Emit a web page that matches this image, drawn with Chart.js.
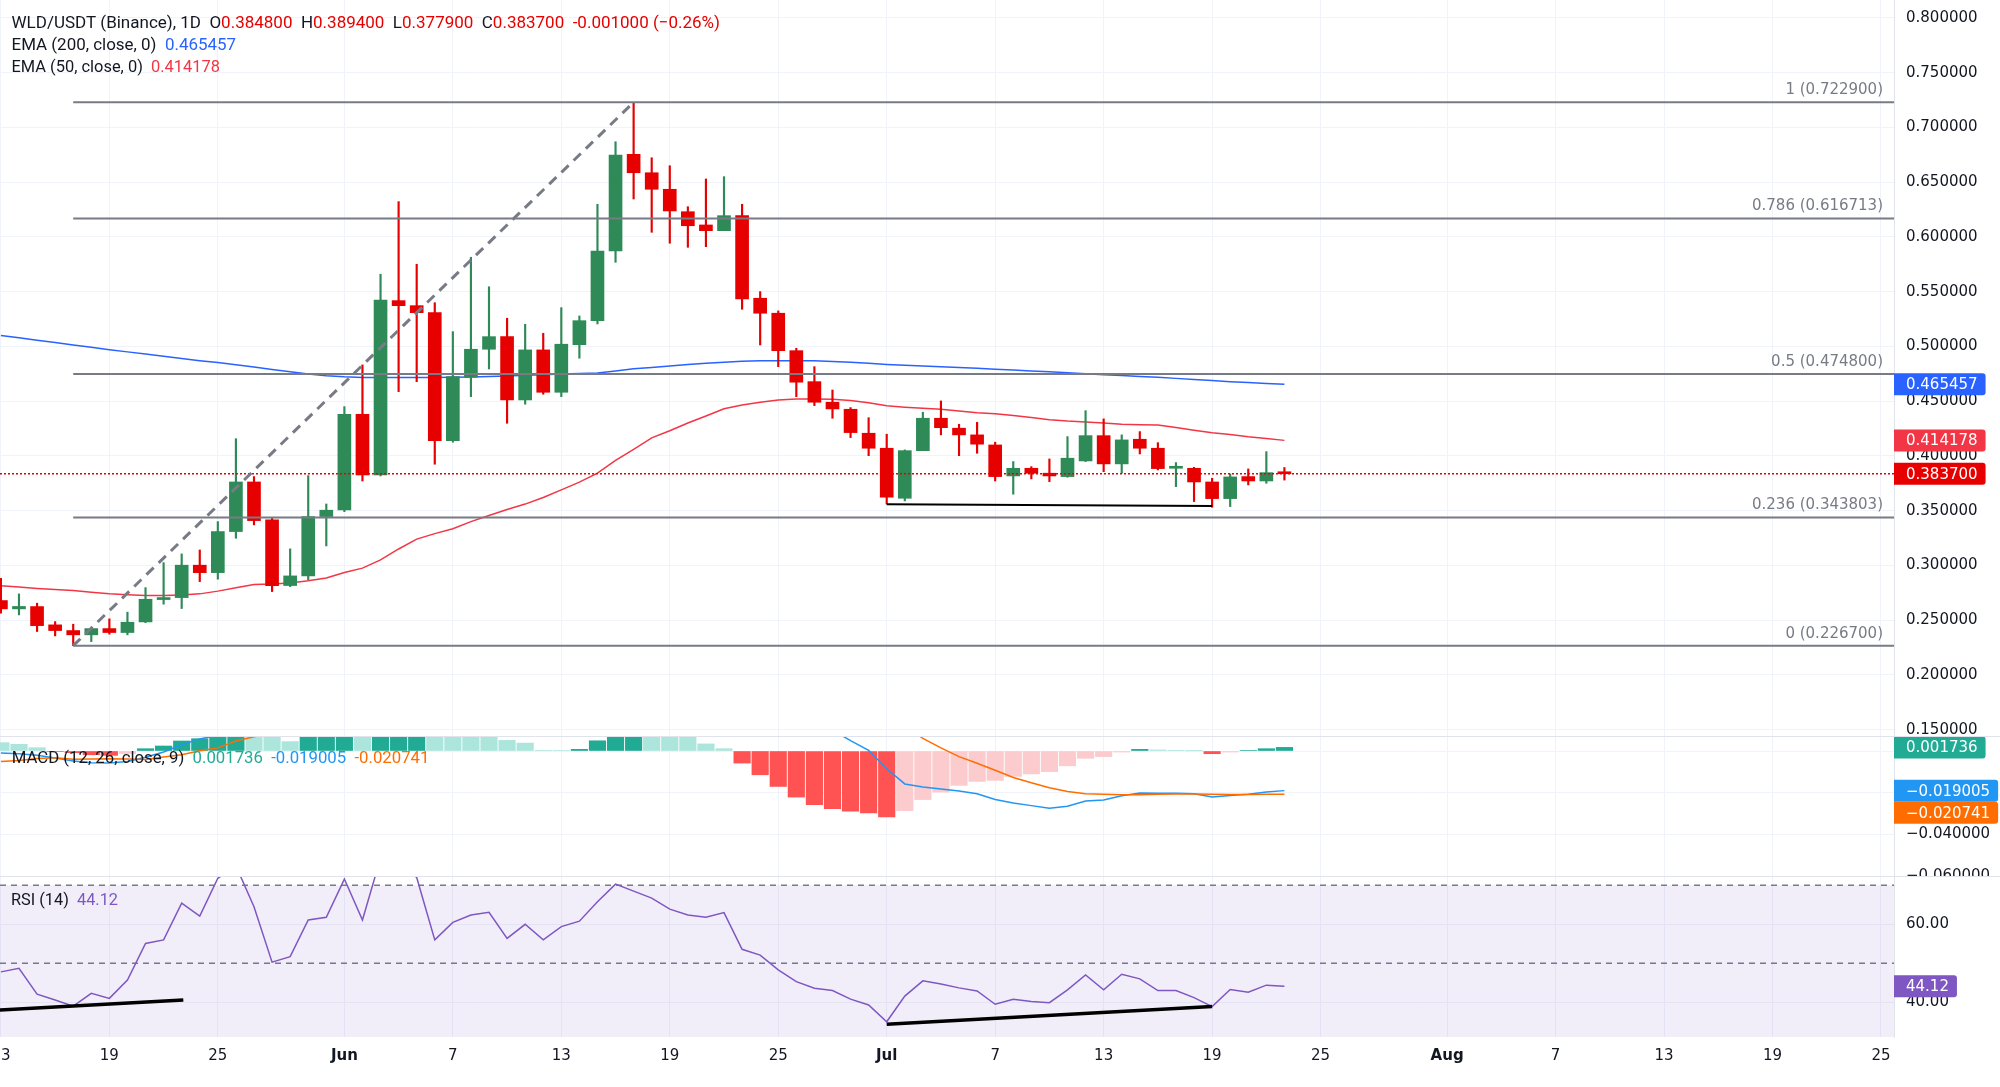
<!DOCTYPE html>
<html><head><meta charset="utf-8">
<script src="https://cdn.jsdelivr.net/npm/chart.js@4.4.1/dist/chart.umd.min.js"></script>
<style>
html,body{margin:0;padding:0;background:#fff;}
body{width:2000px;height:1087px;position:relative;overflow:hidden}
canvas{position:absolute;left:0;display:block}
.sep{position:absolute;left:0;width:2000px;height:1px;background:#e0e3eb}
</style></head><body>
<canvas id="c1" width="2000" height="736" style="top:0"></canvas>
<canvas id="c2" width="2000" height="140" style="top:737px"></canvas>
<canvas id="c3" width="2000" height="210" style="top:877px"></canvas>
<div class="sep" style="top:736px"></div>
<div class="sep" style="top:876px"></div>
<script>
// ---------- DATA ----------
const symbolTitle = 'WLD/USDT (Binance), 1D';
const xTickDays   = [0,6,12,19,25,31,37,43,49,55,61,67,73,80,86,92,98,104];
const xTickLabels = ['13','19','25','Jun','7','13','19','25','Jul','7','13','19','25','Aug','7','13','19','25'];
const monthLabels = ['Jun','Jul','Aug'];
const priceTicks = [0.15,0.2,0.25,0.3,0.35,0.4,0.45,0.5,0.55,0.6,0.65,0.7,0.75,0.8];
const macdTicks  = [0,-0.02,-0.04,-0.06];
const rsiTicks   = [40,60];
const rsiBands   = [70,50,30];

const open = [0.2679,0.2603,0.2624,0.2457,0.2405,0.2366,0.2423,0.2387,0.2484,0.2688,
0.2706,0.3002,0.2934,0.3309,0.3762,0.3416,0.2816,0.2904,0.3446,0.3507,
0.4380,0.3826,0.5418,0.5372,0.5308,0.4139,0.4718,0.4974,0.5089,0.4511,
0.4968,0.4581,0.5016,0.5235,0.5871,0.6754,0.6586,0.6435,0.6230,0.6109,
0.6057,0.6194,0.5440,0.5303,0.4961,0.4678,0.4490,0.4426,0.4207,0.4070,
0.3613,0.4048,0.4344,0.4253,0.4192,0.4100,0.3817,0.3887,0.3842,0.3811,
0.3954,0.4185,0.3927,0.4152,0.4070,0.3887,0.3887,0.3762,0.3610,0.3811,
0.3771,0.3848];
const high = [0.2883,0.2740,0.2655,0.2487,0.2463,0.2432,0.2512,0.2573,0.2797,0.3025,
0.3105,0.3141,0.3400,0.4157,0.3811,0.3431,0.3151,0.3820,0.3561,0.4450,
0.4831,0.5659,0.6322,0.5750,0.5399,0.5135,0.5814,0.5545,0.5257,0.5202,
0.5120,0.5354,0.5278,0.6298,0.6869,0.7229,0.6723,0.6650,0.6276,0.6529,
0.6550,0.6298,0.5500,0.5324,0.4983,0.4815,0.4602,0.4441,0.4349,0.4198,
0.4055,0.4399,0.4502,0.4289,0.4307,0.4125,0.3948,0.3902,0.3972,0.4176,
0.4413,0.4338,0.4192,0.4222,0.4121,0.3939,0.3896,0.3796,0.3835,0.3881,
0.4039,0.3894];
const low = [0.2563,0.2548,0.2396,0.2356,0.2267,0.2304,0.2372,0.2366,0.2477,0.2646,
0.2606,0.2852,0.2874,0.3248,0.3370,0.2761,0.2806,0.2868,0.3178,0.3491,
0.3771,0.3817,0.4587,0.4678,0.3924,0.4125,0.4541,0.4794,0.4298,0.4472,
0.4563,0.4541,0.4892,0.5205,0.5768,0.6346,0.6042,0.5942,0.5905,0.5911,
0.6057,0.5339,0.5013,0.4815,0.4541,0.4459,0.4344,0.4167,0.4002,0.3561,
0.3589,0.4048,0.4192,0.4002,0.4024,0.3771,0.3650,0.3790,0.3765,0.3805,
0.3948,0.3856,0.3842,0.4018,0.3872,0.3719,0.3583,0.3531,0.3537,0.3735,
0.3750,0.3779];
const close = [0.2603,0.2625,0.2450,0.2405,0.2366,0.2423,0.2387,0.2481,0.2691,0.2706,
0.3002,0.2934,0.3309,0.3762,0.3409,0.2816,0.2904,0.3446,0.3504,0.4380,
0.3826,0.5424,0.5372,0.5308,0.4139,0.4724,0.4974,0.5089,0.4511,0.4968,
0.4581,0.5020,0.5235,0.5871,0.6748,0.6586,0.6435,0.6237,0.6102,0.6057,
0.6194,0.5433,0.5303,0.4961,0.4673,0.4490,0.4429,0.4213,0.4070,0.3623,
0.4048,0.4344,0.4258,0.4192,0.4107,0.3811,0.3887,0.3842,0.3817,0.3979,
0.4185,0.3927,0.4146,0.4070,0.3884,0.3896,0.3762,0.3610,0.3808,0.3771,
0.3847,0.3837];
const ema200 = [0.5100,0.5078,0.5056,0.5035,0.5013,0.4992,0.4970,0.4950,0.4930,0.4910,
0.4890,0.4870,0.4852,0.4832,0.4812,0.4790,0.4768,0.4748,0.4732,0.4722,
0.4717,0.4716,0.4716,0.4716,0.4716,0.4718,0.4721,0.4725,0.4730,0.4736,
0.4742,0.4748,0.4752,0.4758,0.4775,0.4795,0.4808,0.4822,0.4835,0.4846,
0.4856,0.4864,0.4868,0.4870,0.4870,0.4868,0.4862,0.4855,0.4845,0.4835,
0.4828,0.4822,0.4815,0.4808,0.4800,0.4792,0.4784,0.4776,0.4768,0.4760,
0.4750,0.4742,0.4734,0.4726,0.4718,0.4708,0.4698,0.4688,0.4678,0.4670,
0.4662,0.465457];
const ema50 = [0.2815,0.2802,0.2790,0.2780,0.2770,0.2755,0.2740,0.2732,0.2725,0.2726,
0.2730,0.2740,0.2765,0.2795,0.2825,0.2830,0.2840,0.2860,0.2885,0.2935,
0.2975,0.3050,0.3150,0.3240,0.3290,0.3335,0.3400,0.3455,0.3510,0.3560,
0.3620,0.3690,0.3760,0.3842,0.3960,0.4060,0.4165,0.4230,0.4300,0.4365,
0.4430,0.4465,0.4490,0.4510,0.4520,0.4520,0.4518,0.4505,0.4485,0.4457,
0.4445,0.4435,0.4425,0.4410,0.4395,0.4385,0.4370,0.4350,0.4330,0.4318,
0.4310,0.4300,0.4288,0.4285,0.4283,0.4260,0.4235,0.4212,0.4195,0.4175,
0.4160,0.414178];
const histPrev = 0.0046;
const hist = [0.0040,0.0032,0.0016,-0.0002,-0.0008,-0.0018,-0.0021,-0.0012,0.0011,0.0024,
0.0048,0.0059,0.0085,0.0105,0.0095,0.0080,0.0045,0.0075,0.0090,0.0110,
0.0100,0.0120,0.0132,0.0138,0.0118,0.0105,0.0092,0.0080,0.0051,0.0038,
0.0003,0.0002,0.0008,0.0049,0.0075,0.0090,0.0085,0.0080,0.0074,0.0034,
0.0011,-0.0058,-0.0114,-0.0170,-0.0221,-0.0257,-0.0276,-0.0289,-0.0297,-0.0316,
-0.0286,-0.0233,-0.0197,-0.0165,-0.0146,-0.0141,-0.0122,-0.0110,-0.0099,-0.0071,
-0.0035,-0.0027,-0.0005,0.0008,0.0005,0.0003,0.0001,-0.0013,-0.0005,0.0002,
0.0011,0.001736];
const macd = [-0.0010,-0.0013,-0.0020,-0.0034,-0.0048,-0.0056,-0.0058,-0.0050,-0.0030,-0.0005,
0.0030,0.0058,0.0075,0.0120,0.0160,0.0175,0.0170,0.0205,0.0240,0.0280,
0.0290,0.0330,0.0360,0.0385,0.0380,0.0385,0.0390,0.0395,0.0380,0.0380,
0.0370,0.0375,0.0385,0.0420,0.0470,0.0500,0.0515,0.0520,0.0520,0.0505,
0.0490,0.0430,0.0370,0.0300,0.0230,0.0165,0.0100,0.0050,0.0003,-0.0085,
-0.0158,-0.0173,-0.0182,-0.0192,-0.0205,-0.0233,-0.0249,-0.0262,-0.0275,-0.0265,
-0.0240,-0.0235,-0.0215,-0.0202,-0.0203,-0.0203,-0.0205,-0.0221,-0.0214,-0.0207,
-0.0197,-0.019005];
const signal = [-0.0050,-0.0045,-0.0036,-0.0032,-0.0040,-0.0038,-0.0037,-0.0038,-0.0041,-0.0029,
-0.0018,0.0001,0.0015,0.0048,0.0068,0.0090,0.0125,0.0130,0.0150,0.0170,
0.0190,0.0210,0.0228,0.0247,0.0262,0.0280,0.0298,0.0315,0.0329,0.0342,
0.0367,0.0373,0.0377,0.0371,0.0395,0.0410,0.0430,0.0440,0.0446,0.0471,
0.0479,0.0488,0.0484,0.0470,0.0451,0.0422,0.0376,0.0339,0.0300,0.0231,
0.0128,0.0060,0.0015,-0.0027,-0.0059,-0.0092,-0.0127,-0.0152,-0.0176,-0.0194,
-0.0205,-0.0208,-0.0210,-0.0210,-0.0208,-0.0206,-0.0206,-0.0208,-0.0209,-0.0209,
-0.0208,-0.020741];
const rsi = [47.8,48.7,42.1,40.6,39.0,42.3,41.0,45.7,55.1,56.0,
65.4,62.1,71.8,75.0,64.5,50.3,51.7,61.1,61.8,71.6,
61.1,77.0,76.0,72.0,56.0,60.5,62.4,63.1,56.4,60.0,
56.0,59.4,60.8,65.8,70.3,68.5,66.7,63.9,62.4,61.8,
63.0,53.6,52.1,48.3,45.3,43.6,43.0,40.8,39.3,35.0,
41.6,45.5,44.7,43.7,42.9,39.5,40.8,40.2,39.9,43.2,
47.0,43.2,47.2,46.0,43.0,43.0,41.2,38.9,43.3,42.6,
44.4,44.12];

// drawings
const fibLevels = [1,0.786,0.5,0.236,0];
const fibPrices = [0.7229,0.616713,0.4748,0.343803,0.2267];
const fibStartDay = 4;
const swingDays = [4,35], swingPrices = [0.2267,0.7229];
const supportDays = [49,67], supportPrices = [0.3559,0.3543];
const rsiTrendADays = [-1,10.09], rsiTrendAValues = [37.75,40.6];
const rsiTrendBDays = [49,67], rsiTrendBValues = [34.4,38.9];

// ---------- VIEW ----------
const X_MIN = -0.05, X_MAX = 104.72;
const P_MIN = 0.144201, P_MAX = 0.816347;
const M_MIN = -0.060432, M_MAX = 0.006715;
const R_MIN = 31.10, R_MAX = 72.13;
const AXIS_W = 106;
const N = close.length;
const idx = close.map((_, i) => i);
const UP = '#2e8a57', DOWN = '#e60000';
const TXT = '#131722';
const AXFONT = {family: 'DejaVu Sans', size: 15};
const fmt = v => (v < 0 ? '\u2212' : '') + Math.abs(v).toFixed(6);

function zeroPad(s) { s.paddingTop = 0; s.paddingBottom = 0; s.paddingLeft = 0; s.paddingRight = 0; }
function xCfg(show) {
  return {
    type: 'linear', min: X_MIN, max: X_MAX, offset: false, bounds: 'data',
    afterBuildTicks: s => { s.ticks = xTickDays.map(v => ({value: v})); },
    afterFit: s => { s.height = show ? 50 : 0; zeroPad(s); },
    grid: {color: '#f0f3fa', drawTicks: false, offset: false},
    border: {display: false},
    ticks: {
      display: show, autoSkip: false, maxRotation: 0, padding: 10, color: TXT,
      font: c => ({family: 'DejaVu Sans', size: 15, weight: monthLabels.includes(xTickLabels[c.index]) ? 'bold' : 'normal'}),
      callback: (v, i) => xTickLabels[i]
    }
  };
}
function yCfg(min, max, ticks, cb) {
  return {
    position: 'right', min, max, bounds: 'data',
    afterBuildTicks: s => { s.ticks = ticks.map(v => ({value: v})); },
    afterFit: s => { s.width = AXIS_W; zeroPad(s); },
    grid: {color: '#f0f3fa', drawTicks: false},
    border: {display: true, color: '#e0e3eb'},
    ticks: {padding: 12, color: TXT, font: AXFONT, autoSkip: false, callback: cb}
  };
}
function base(yc, showX) {
  return {
    responsive: false, animation: false, devicePixelRatio: 1, events: [],
    layout: {padding: 0, autoPadding: false},
    plugins: {legend: {display: false}, tooltip: {enabled: false}},
    scales: {x: xCfg(showX), y: yc}
  };
}
function seg(xs, ys, color, width, dash, order, extra) {
  return Object.assign({
    type: 'line', data: xs.map((x, i) => ({x, y: ys[i]})),
    borderColor: color, borderWidth: width, borderDash: dash || [],
    pointRadius: 0, fill: false, tension: 0, order
  }, extra || {});
}
function legend(ctx, segs, x, baseline, targetW) {
  ctx.save();
  ctx.font = '16px Roboto';
  const w = segs.reduce((s, g) => s + ctx.measureText(g[0]).width, 0);
  const size = Math.max(12, Math.min(20, 16 * targetW / w));
  ctx.font = size.toFixed(2) + 'px Roboto';
  ctx.textAlign = 'left'; ctx.textBaseline = 'alphabetic';
  let cx = x;
  for (const [t, c] of segs) { ctx.fillStyle = c; ctx.fillText(t, cx, baseline); cx += ctx.measureText(t).width; }
  ctx.restore();
}
function tags(chart, items) {
  const {ctx, chartArea: a, scales: {y}} = chart;
  ctx.save();
  ctx.font = '15px "DejaVu Sans"';
  const list = items.map(t => Object.assign({}, t, {py: y.getPixelForValue(t.v)})).sort((p, q) => p.py - q.py);
  for (let i = 1; i < list.length; i++) if (list[i].py - list[i - 1].py < 22) list[i].py = list[i - 1].py + 22;
  for (const t of list) {
    const w = ctx.measureText(t.text).width + 20;
    const x0 = a.right, y0 = t.py - 11, h = 22, r = 3;
    ctx.fillStyle = t.color;
    ctx.beginPath();
    ctx.moveTo(x0, y0); ctx.lineTo(x0 + w - r, y0); ctx.quadraticCurveTo(x0 + w, y0, x0 + w, y0 + r);
    ctx.lineTo(x0 + w, y0 + h - r); ctx.quadraticCurveTo(x0 + w, y0 + h, x0 + w - r, y0 + h);
    ctx.lineTo(x0, y0 + h); ctx.closePath(); ctx.fill();
    ctx.fillStyle = '#fff'; ctx.textAlign = 'left'; ctx.textBaseline = 'middle';
    ctx.fillText(t.text, x0 + 12, t.py + 1);
  }
  ctx.restore();
}

// ---------- PRICE PANE ----------
const candleColors = idx.map(i => close[i] >= open[i] ? UP : DOWN);
const last = N - 1;
const chg = close[last] - close[last - 1];
const pct = chg / close[last - 1] * 100;
const RED = '#e60000';

const pricePlugin = {
  id: 'priceDeco',
  afterDraw(chart) {
    const {ctx, chartArea: a, scales: {y}} = chart;
    ctx.save();
    ctx.font = '15px "DejaVu Sans"'; ctx.fillStyle = '#787b86';
    ctx.textAlign = 'right'; ctx.textBaseline = 'middle';
    fibLevels.forEach((lv, i) => {
      ctx.fillText(`${lv} (${fibPrices[i].toFixed(6)})`, a.right - 11, y.getPixelForValue(fibPrices[i]) - 12);
    });
    ctx.restore();
    legend(ctx, [[symbolTitle, TXT], ['  O', TXT], [open[last].toFixed(6), RED], ['  H', TXT], [high[last].toFixed(6), RED],
      ['  L', TXT], [low[last].toFixed(6), RED], ['  C', TXT], [close[last].toFixed(6), RED],
      ['  ' + chg.toFixed(6) + ' (' + (pct < 0 ? '\u2212' : '+') + Math.abs(pct).toFixed(2) + '%)', RED]], 11.5, 28, 708.5);
    legend(ctx, [['EMA (200, close, 0)', TXT], ['  ' + ema200[last].toFixed(6), '#2962ff']], 11.5, 50, 224.5);
    legend(ctx, [['EMA (50, close, 0)', TXT], ['  ' + ema50[last].toFixed(6), '#f23645']], 11.5, 72, 208.5);
    tags(chart, [
      {v: ema200[last], color: '#2962ff', text: fmt(ema200[last])},
      {v: ema50[last], color: '#f23645', text: fmt(ema50[last])},
      {v: close[last], color: RED, text: fmt(close[last])}
    ]);
  }
};

const priceDatasets = [
  ...fibPrices.map(p => seg([fibStartDay, X_MAX], [p, p], '#787b86', 2, [], 0)),
  seg(swingDays, swingPrices, '#787b86', 3, [10, 7], 0),
  seg(supportDays, supportPrices, '#000000', 2, [], 0),
  seg([X_MIN, X_MAX], [close[last], close[last]], RED, 1.5, [2, 2], 0),
  {type: 'bar', data: idx.map(i => ({x: i, y: [open[i], close[i]]})), backgroundColor: candleColors,
   borderWidth: 0, barThickness: 13, minBarLength: 2, grouped: false, order: 1},
  {type: 'bar', data: idx.map(i => ({x: i, y: [low[i], high[i]]})), backgroundColor: candleColors,
   borderWidth: 0, barThickness: 1.5, grouped: false, order: 2},
  seg(idx, ema50, '#f23645', 1.5, [], 3),
  seg(idx, ema200, '#2962ff', 1.5, [], 3)
];
new Chart(document.getElementById('c1'), {
  type: 'bar', data: {datasets: priceDatasets},
  options: base(yCfg(P_MIN, P_MAX, priceTicks, v => v.toFixed(6)), false),
  plugins: [pricePlugin]
});

// ---------- MACD PANE ----------
const histColors = hist.map((h, i) => {
  const prev = i > 0 ? hist[i - 1] : histPrev;
  if (h >= 0) return h >= prev ? '#22ab94' : '#ace5dc';
  return h < prev ? '#ff5252' : '#fccbcd';
});
const macdPlugin = {
  id: 'macdDeco',
  afterDraw(chart) {
    legend(chart.ctx, [['MACD (12, 26, close, 9)', TXT], ['  ' + hist[last].toFixed(6), '#22ab94'],
      ['  ' + macd[last].toFixed(6), '#2196f3'], ['  ' + signal[last].toFixed(6), '#ff6d00']], 11.7, 26, 418);
    tags(chart, [
      {v: hist[last], color: '#22ab94', text: fmt(hist[last])},
      {v: macd[last], color: '#2196f3', text: fmt(macd[last])},
      {v: signal[last], color: '#ff6d00', text: fmt(signal[last])}
    ]);
  }
};
new Chart(document.getElementById('c2'), {
  type: 'bar',
  data: {datasets: [
    seg(idx, signal, '#ff6d00', 1.5, [], 1),
    seg(idx, macd, '#2196f3', 1.5, [], 2),
    {type: 'bar', data: idx.map(i => ({x: i, y: hist[i]})), backgroundColor: histColors, borderWidth: 0,
     barThickness: 16.5, grouped: false, order: 3}
  ]},
  options: base(yCfg(M_MIN, M_MAX, macdTicks, v => fmt(v)), false),
  plugins: [macdPlugin]
});

// ---------- RSI PANE ----------
const rsiPlugin = {
  id: 'rsiDeco',
  afterDraw(chart) {
    legend(chart.ctx, [['RSI (14)', TXT], ['  ' + rsi[last].toFixed(2), '#7e57c2']], 11, 28, 107);
    tags(chart, [{v: rsi[last], color: '#7e57c2', text: rsi[last].toFixed(2)}]);
  }
};
new Chart(document.getElementById('c3'), {
  type: 'line',
  data: {datasets: [
    seg(rsiTrendADays, rsiTrendAValues, '#000000', 3.5, [], 0),
    seg(rsiTrendBDays, rsiTrendBValues, '#000000', 3.5, [], 0),
    seg(idx, rsi, '#7e57c2', 1.5, [], 1),
    seg([X_MIN, X_MAX], [rsiBands[0], rsiBands[0]], '#787b86', 1.5, [6, 5], 2,
        {fill: {value: rsiBands[2]}, backgroundColor: 'rgba(126,87,194,0.10)'}),
    seg([X_MIN, X_MAX], [rsiBands[1], rsiBands[1]], '#787b86', 1.5, [6, 5], 2)
  ]},
  options: base(yCfg(R_MIN, R_MAX, rsiTicks, v => v.toFixed(2)), true),
  plugins: [rsiPlugin]
});
</script></body></html>
